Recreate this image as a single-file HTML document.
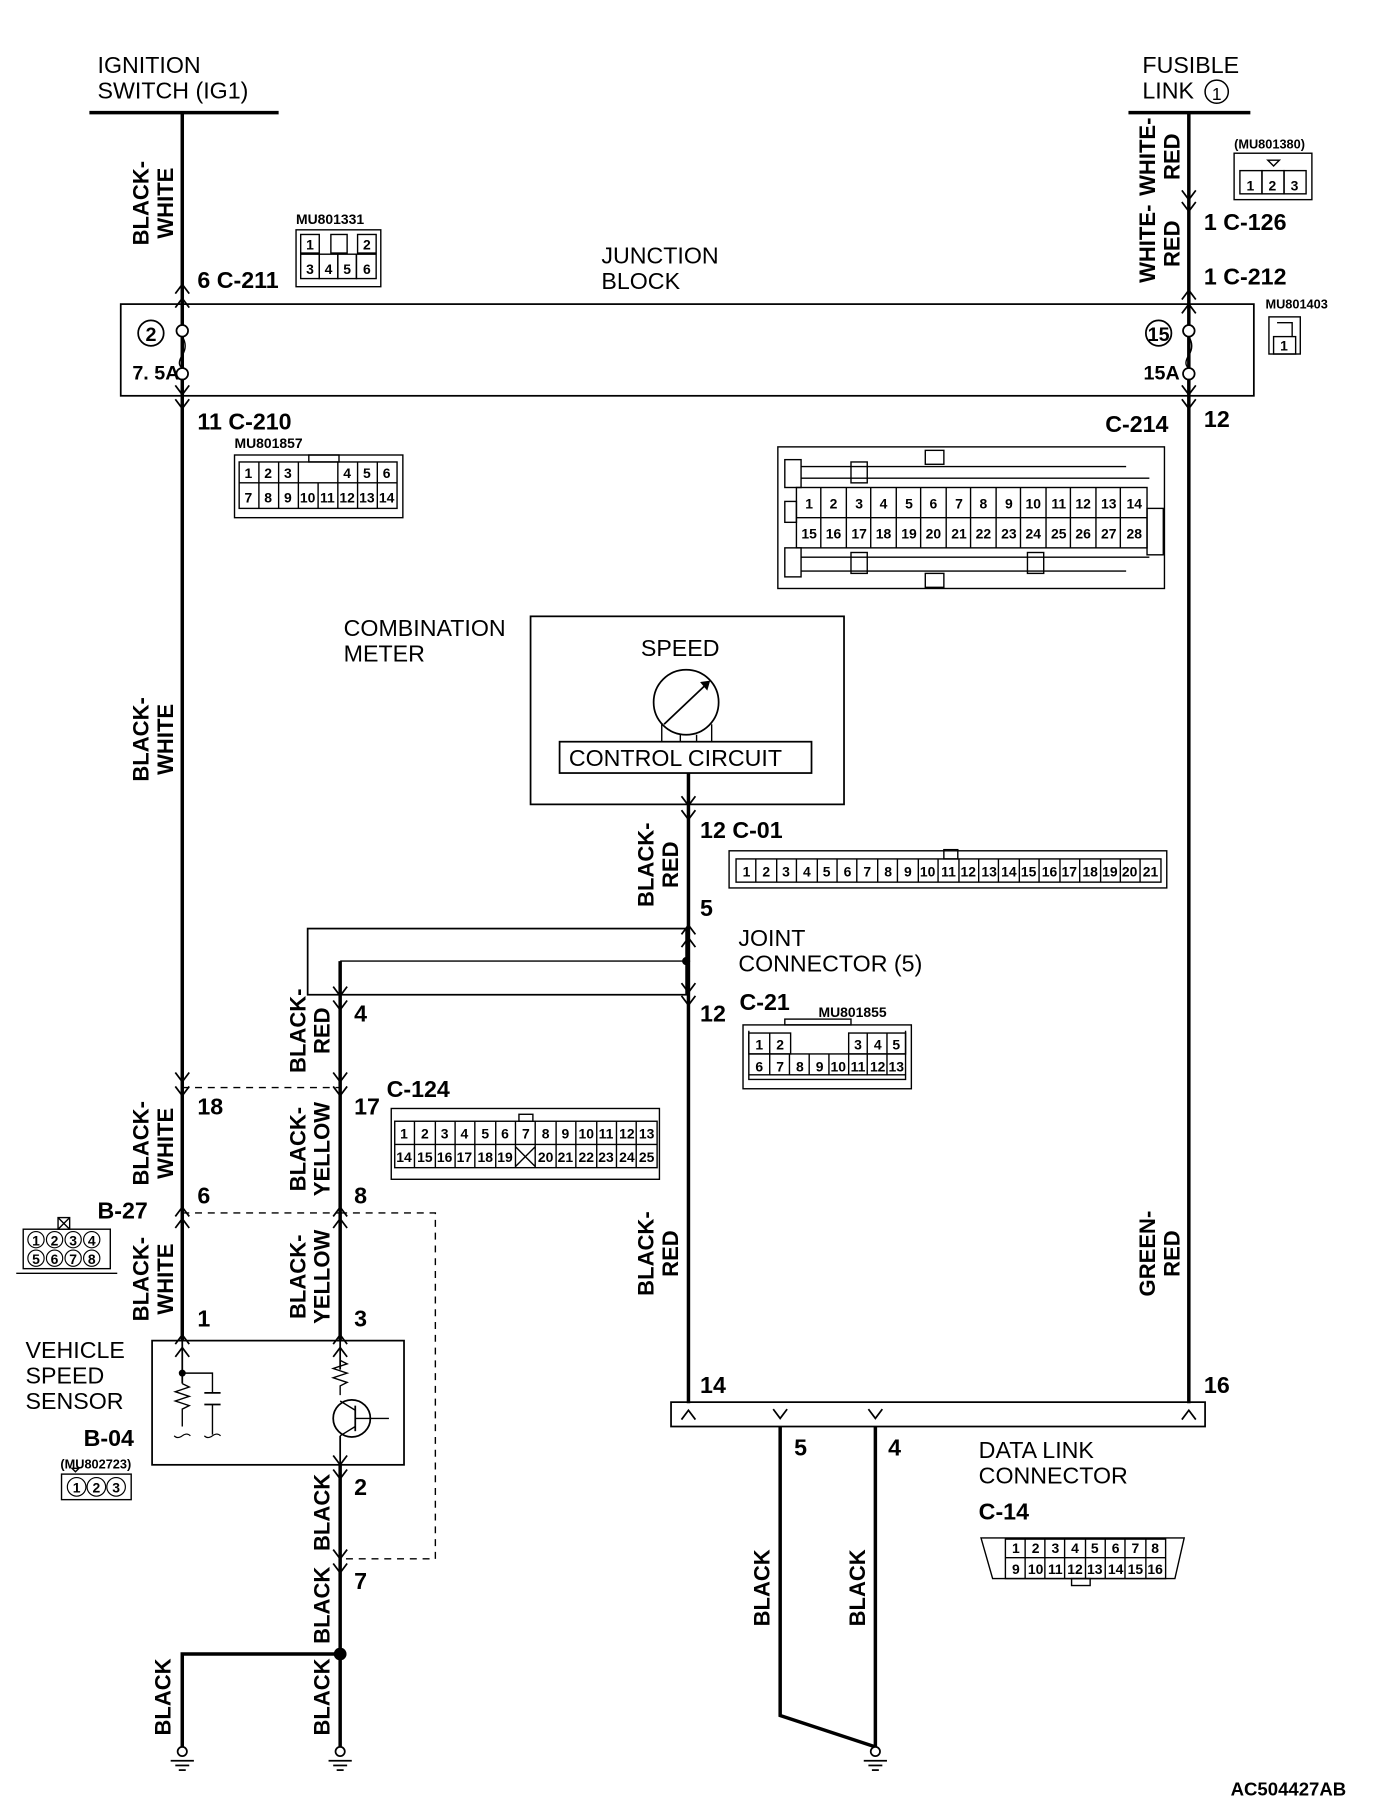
<!DOCTYPE html>
<html><head><meta charset="utf-8"><style>
html,body{margin:0;padding:0;background:#fff}
svg{display:block}
.t{font-family:"Liberation Sans",sans-serif;font-size:20px;fill:#000}
.b{font-family:"Liberation Sans Narrow","Liberation Sans",sans-serif;font-weight:bold;font-size:20px;fill:#000}
.w{font-family:"Liberation Sans Narrow","Liberation Sans",sans-serif;font-weight:bold;font-size:19px;fill:#000}
.s{font-family:"Liberation Sans Narrow","Liberation Sans",sans-serif;font-weight:bold;font-size:12px;fill:#000}
.p{font-family:"Liberation Sans Narrow","Liberation Sans",sans-serif;font-weight:bold;font-size:12px;fill:#000;text-anchor:middle}
</style></head><body>
<svg width="1392" height="1820" viewBox="0 0 1199 1568" preserveAspectRatio="none" xmlns="http://www.w3.org/2000/svg">
<defs>
<symbol id="u" overflow="visible"><path d="M-6,8 L0,0 L6,8" fill="none" stroke="#000" stroke-width="1.5"/></symbol>
<symbol id="d" overflow="visible"><path d="M-6,-8 L0,0 L6,-8" fill="none" stroke="#000" stroke-width="1.5"/></symbol>
</defs>
<g fill="none" stroke="#000">
<line x1="77" y1="97" x2="240" y2="97" stroke-width="3"/>
<line x1="972" y1="97" x2="1077" y2="97" stroke-width="3"/>
<line x1="157" y1="97" x2="157" y2="1155" stroke-width="3"/>
<line x1="1024" y1="97" x2="1024" y2="1209" stroke-width="3"/>
<line x1="593" y1="666" x2="593" y2="1209" stroke-width="3"/>
<line x1="293" y1="828" x2="293" y2="1155" stroke-width="3"/>
<line x1="293" y1="1262" x2="293" y2="1505" stroke-width="3"/>
<polyline points="157,1505 157,1425 293,1425" stroke-width="3"/>
<polyline points="672,1229 672,1478 754,1505" stroke-width="3"/>
<line x1="754" y1="1229" x2="754" y2="1505" stroke-width="3"/>
<rect x="104" y="262" width="976" height="79" stroke-width="1.5"/>
<circle cx="130" cy="287" r="11" stroke-width="1.5"/>
<circle cx="998" cy="287" r="11" stroke-width="1.5"/>
<circle cx="157" cy="285" r="5" fill="#fff" stroke-width="1.5"/>
<circle cx="157" cy="322" r="5" fill="#fff" stroke-width="1.5"/>
<circle cx="1024" cy="285" r="5" fill="#fff" stroke-width="1.5"/>
<circle cx="1024" cy="322" r="5" fill="#fff" stroke-width="1.5"/>
<rect x="457" y="531" width="270" height="162" stroke-width="1.5"/>
<circle cx="591" cy="605" r="28" stroke-width="1.5"/>
<line x1="572" y1="624" x2="610" y2="588" stroke-width="1.5"/>
<path d="M604,588 L611,587 L609,594Z" fill="#000"/>
<line x1="570" y1="624" x2="570" y2="639" stroke-width="1.2"/>
<line x1="586" y1="633" x2="586" y2="639" stroke-width="1.2"/>
<line x1="600" y1="633" x2="600" y2="639" stroke-width="1.2"/>
<line x1="613" y1="624" x2="613" y2="639" stroke-width="1.2"/>
<rect x="482" y="639" width="217" height="27" stroke-width="1.5"/>
<rect x="265" y="800" width="326" height="57" stroke-width="1.5"/>
<line x1="293" y1="828" x2="591" y2="828" stroke-width="1.2"/>
<circle cx="591" cy="828" r="3" fill="#000"/>
<line x1="157" y1="937" x2="293" y2="937" stroke-dasharray="6,5" stroke-width="1.2"/>
<polyline points="157,1045 293,1045" stroke-dasharray="6,5" stroke-width="1.2"/>
<polyline points="293,1045 375,1045 375,1343 293,1343" stroke-dasharray="6,5" stroke-width="1.2"/>
<rect x="131" y="1155" width="217" height="107" stroke-width="1.5"/>
<line x1="157" y1="1155" x2="157" y2="1192" stroke-width="1.5"/>
<circle cx="157" cy="1183" r="2.5" fill="#000"/>
<polyline points="157,1183 183,1183 183,1200" stroke-width="1.2"/>
<line x1="176" y1="1200" x2="190" y2="1200" stroke-width="1.5"/>
<line x1="176" y1="1210" x2="190" y2="1210" stroke-width="1.5"/>
<line x1="183" y1="1210" x2="183" y2="1236" stroke-width="1.2"/>
<path d="M157,1192 l6,3 l-12,4 l12,4 l-12,4 l12,4 l-6,3 v15" stroke-width="1.2"/>
<path d="M150,1237 q3,3 7,0 q4,-3 7,0 M176,1237 q3,3 7,0 q4,-3 7,0" stroke-width="1"/>
<line x1="293" y1="1155" x2="293" y2="1180" stroke-width="1.5"/>
<path d="M293,1172 l6,3 l-12,4 l12,4 l-12,4 l12,4 l-6,3 v8" stroke-width="1.2"/>
<circle cx="303" cy="1222" r="16" stroke-width="1.5"/>
<line x1="306" y1="1211" x2="306" y2="1233" stroke-width="1.5"/>
<line x1="293" y1="1207" x2="306" y2="1215" stroke-width="1.2"/>
<line x1="306" y1="1229" x2="293" y2="1237" stroke-width="1.2"/>
<line x1="306" y1="1222" x2="335" y2="1222" stroke-width="1.2"/>
<line x1="293" y1="1237" x2="293" y2="1262" stroke-width="1.5"/>
<rect x="578" y="1208" width="460" height="21" stroke-width="1.5"/>
<g stroke-width="1.5">
<circle cx="157" cy="1509" r="4" fill="#fff"/><line x1="147" y1="1517" x2="167" y2="1517"/><line x1="151" y1="1521" x2="163" y2="1521"/><line x1="154" y1="1525" x2="160" y2="1525"/>
<circle cx="293" cy="1509" r="4" fill="#fff"/><line x1="283" y1="1517" x2="303" y2="1517"/><line x1="287" y1="1521" x2="299" y2="1521"/><line x1="290" y1="1525" x2="296" y2="1525"/>
<circle cx="754" cy="1509" r="4" fill="#fff"/><line x1="744" y1="1517" x2="764" y2="1517"/><line x1="748" y1="1521" x2="760" y2="1521"/><line x1="751" y1="1525" x2="757" y2="1525"/>
</g>
<circle cx="293" cy="1425" r="5" fill="#000"/>
</g>
<path d="M157,290 q5,8 0,16 q-5,8 0,11" fill="none" stroke="#000" stroke-width="1.2"/>
<path d="M1024,290 q5,8 0,16 q-5,8 0,11" fill="none" stroke="#000" stroke-width="1.2"/>
<use href="#u" x="157" y="245"/><use href="#u" x="157" y="257"/>
<use href="#d" x="157" y="340"/><use href="#d" x="157" y="352"/>
<use href="#d" x="157" y="932"/><use href="#d" x="157" y="944"/>
<use href="#u" x="157" y="1040"/><use href="#u" x="157" y="1050"/>
<use href="#u" x="157" y="1150"/><use href="#u" x="157" y="1161"/>
<use href="#d" x="1024" y="172"/><use href="#d" x="1024" y="182"/>
<use href="#u" x="1024" y="250"/><use href="#u" x="1024" y="262"/>
<use href="#d" x="1024" y="340"/><use href="#d" x="1024" y="352"/>
<use href="#u" x="1024" y="1215"/>
<use href="#d" x="593" y="694"/><use href="#d" x="593" y="706"/>
<use href="#u" x="593" y="797"/><use href="#u" x="593" y="808"/>
<use href="#d" x="593" y="855"/><use href="#d" x="593" y="866"/>
<use href="#u" x="593" y="1215"/>
<use href="#d" x="293" y="858"/><use href="#d" x="293" y="870"/>
<use href="#d" x="293" y="932"/><use href="#d" x="293" y="944"/>
<use href="#u" x="293" y="1040"/><use href="#u" x="293" y="1050"/>
<use href="#u" x="293" y="1150"/><use href="#u" x="293" y="1161"/>
<use href="#d" x="293" y="1262"/><use href="#d" x="293" y="1274"/>
<use href="#d" x="293" y="1343"/><use href="#d" x="293" y="1355"/>
<use href="#d" x="672" y="1222"/><use href="#d" x="754" y="1222"/>

<text class="t" x="84" y="63">IGNITION</text>
<text class="t" x="84" y="85">SWITCH (IG1)</text>
<text class="t" x="984" y="63">FUSIBLE</text>
<text class="t" x="984" y="85">LINK</text>
<circle cx="1048" cy="79" r="10" fill="none" stroke="#000" stroke-width="1.3"/>
<text class="t" x="1048" y="86" text-anchor="middle" style="font-size:15px">1</text>
<text class="t" x="518" y="227">JUNCTION</text>
<text class="t" x="518" y="249">BLOCK</text>
<text class="b" x="130" y="294" text-anchor="middle" style="font-size:17px">2</text>
<text class="b" x="998" y="294" text-anchor="middle" style="font-size:17px">15</text>
<text class="b" x="114" y="327" style="font-size:17px">7. 5A</text>
<text class="b" x="985" y="327" style="font-size:17px">15A</text>
<text class="b" x="170" y="248">6  C-211</text>
<text class="b" x="170" y="370">11  C-210</text>
<text class="b" x="1037" y="198">1  C-126</text>
<text class="b" x="1037" y="245">1  C-212</text>
<text class="b" x="1037" y="368">12</text>
<text class="b" x="952" y="372">C-214</text>
<text class="t" x="296" y="548">COMBINATION</text>
<text class="t" x="296" y="570">METER</text>
<text class="t" x="552" y="565">SPEED</text>
<text class="t" x="490" y="660">CONTROL CIRCUIT</text>
<text class="b" x="603" y="722">12  C-01</text>
<text class="b" x="603" y="789">5</text>
<text class="t" x="636" y="815">JOINT</text>
<text class="t" x="636" y="837">CONNECTOR (5)</text>
<text class="b" x="603" y="880">12</text>
<text class="b" x="637" y="870">C-21</text>
<text class="b" x="305" y="880">4</text>
<text class="b" x="170" y="960">18</text>
<text class="b" x="305" y="960">17</text>
<text class="b" x="333" y="945">C-124</text>
<text class="b" x="170" y="1037">6</text>
<text class="b" x="305" y="1037">8</text>
<text class="b" x="84" y="1050">B-27</text>
<text class="b" x="170" y="1143">1</text>
<text class="b" x="305" y="1143">3</text>
<text class="t" x="22" y="1170">VEHICLE</text>
<text class="t" x="22" y="1192">SPEED</text>
<text class="t" x="22" y="1214">SENSOR</text>
<text class="b" x="72" y="1246">B-04</text>
<text class="s" x="52" y="1265" style="font-size:11px">(MU802723)</text>
<text class="b" x="305" y="1288">2</text>
<text class="b" x="305" y="1369">7</text>
<text class="b" x="603" y="1200">14</text>
<text class="b" x="1037" y="1200">16</text>
<text class="b" x="684" y="1254">5</text>
<text class="b" x="765" y="1254">4</text>
<text class="t" x="843" y="1256">DATA LINK</text>
<text class="t" x="843" y="1278">CONNECTOR</text>
<text class="b" x="843" y="1309">C-14</text>
<text class="b" x="1060" y="1547" style="font-size:16px">AC504427AB</text>

<g class="w" text-anchor="middle">
<text transform="translate(128,175) rotate(-90)">BLACK-</text><text transform="translate(149,175) rotate(-90)">WHITE</text>
<text transform="translate(128,637) rotate(-90)">BLACK-</text><text transform="translate(149,637) rotate(-90)">WHITE</text>
<text transform="translate(128,985) rotate(-90)">BLACK-</text><text transform="translate(149,985) rotate(-90)">WHITE</text>
<text transform="translate(128,1102) rotate(-90)">BLACK-</text><text transform="translate(149,1102) rotate(-90)">WHITE</text>
<text transform="translate(995,135) rotate(-90)">WHITE-</text><text transform="translate(1016,135) rotate(-90)">RED</text>
<text transform="translate(995,210) rotate(-90)">WHITE-</text><text transform="translate(1016,210) rotate(-90)">RED</text>
<text transform="translate(995,1080) rotate(-90)">GREEN-</text><text transform="translate(1016,1080) rotate(-90)">RED</text>
<text transform="translate(563,745) rotate(-90)">BLACK-</text><text transform="translate(584,745) rotate(-90)">RED</text>
<text transform="translate(563,1080) rotate(-90)">BLACK-</text><text transform="translate(584,1080) rotate(-90)">RED</text>
<text transform="translate(263,888) rotate(-90)">BLACK-</text><text transform="translate(284,888) rotate(-90)">RED</text>
<text transform="translate(263,990) rotate(-90)">BLACK-</text><text transform="translate(284,990) rotate(-90)">YELLOW</text>
<text transform="translate(263,1100) rotate(-90)">BLACK-</text><text transform="translate(284,1100) rotate(-90)">YELLOW</text>
<text transform="translate(284,1303) rotate(-90)">BLACK</text>
<text transform="translate(284,1383) rotate(-90)">BLACK</text>
<text transform="translate(284,1462) rotate(-90)">BLACK</text>
<text transform="translate(147,1462) rotate(-90)">BLACK</text>
<text transform="translate(663,1368) rotate(-90)">BLACK</text>
<text transform="translate(745,1368) rotate(-90)">BLACK</text>
</g>

<g fill="none" stroke="#000" stroke-width="1.2">
<rect x="255" y="198" width="73" height="49"/>
<rect x="259" y="202" width="16" height="16"/><rect x="285" y="202" width="14" height="16"/><rect x="308" y="202" width="16" height="16"/>
<rect x="259" y="219" width="16" height="21"/><rect x="275" y="219" width="16" height="21"/><rect x="291" y="219" width="16" height="21"/><rect x="307" y="219" width="17" height="21"/>
<rect x="1063" y="132" width="67" height="40"/>
<rect x="1068" y="147" width="19" height="20"/><rect x="1087" y="147" width="19" height="20"/><rect x="1106" y="147" width="19" height="20"/>
<path d="M1092,138 h10 l-5,5z"/>
<rect x="1093" y="273" width="27" height="32"/><rect x="1097" y="290" width="19" height="15"/><path d="M1100,278 h13 v12"/>
<rect x="202" y="392" width="145" height="54"/><rect x="266" y="392" width="26" height="6"/>
<rect x="206" y="398" width="136" height="40"/>
<line x1="206" y1="416" x2="342" y2="416"/>
<line x1="223" y1="398" x2="223" y2="438"/><line x1="240" y1="398" x2="240" y2="438"/><line x1="257" y1="398" x2="257" y2="438"/>
<line x1="274" y1="416" x2="274" y2="438"/><line x1="291" y1="398" x2="291" y2="438"/><line x1="308" y1="398" x2="308" y2="438"/><line x1="325" y1="398" x2="325" y2="438"/>
<rect x="670" y="385" width="333" height="122"/>
<rect x="686" y="420" width="302" height="52"/>
<line x1="686" y1="446" x2="988" y2="446"/>
<path d="M690,402 H970 M690,412 H990 M690,480 H990 M690,492 H970"/>
<rect x="676" y="396" width="14" height="24"/><rect x="676" y="472" width="14" height="25"/><rect x="676" y="432" width="10" height="18"/>
<rect x="733" y="398" width="14" height="18"/><rect x="733" y="476" width="14" height="18"/>
<rect x="797" y="388" width="16" height="12"/><rect x="797" y="494" width="16" height="12"/><rect x="885" y="476" width="14" height="18"/>
<rect x="988" y="438" width="14" height="40"/>
<rect x="628" y="733" width="377" height="32"/>
<rect x="634" y="740" width="366" height="20"/>
<rect x="813" y="732" width="12" height="8"/>
<rect x="640" y="883" width="145" height="55"/><rect x="676" y="878" width="57" height="5"/>
<path d="M645,888 V930 H780 V888 M645,926 H780"/>
<rect x="645" y="890" width="36" height="18"/><line x1="663" y1="890" x2="663" y2="908"/>
<rect x="731" y="890" width="49" height="18"/><line x1="747" y1="890" x2="747" y2="908"/><line x1="764" y1="890" x2="764" y2="908"/>
<line x1="645" y1="908" x2="780" y2="908"/>
<rect x="337" y="955" width="231" height="61"/>
<rect x="340" y="966" width="226" height="40"/><line x1="340" y1="986" x2="566" y2="986"/>
<rect x="447" y="960" width="12" height="6"/>
<line x1="444" y1="988" x2="461" y2="1005"/><line x1="461" y1="988" x2="444" y2="1005"/>
<rect x="20" y="1059" width="75" height="34"/><line x1="14" y1="1097" x2="101" y2="1097"/>
<rect x="50" y="1049" width="10" height="10"/><path d="M50,1049 l10,10 M60,1049 l-10,10"/>
<rect x="53" y="1270" width="60" height="22"/><path d="M62,1265 h6 l-3,3z"/>
<path d="M845,1325 H1020 L1012,1360 H855 Z"/>
<line x1="866" y1="1342" x2="1004" y2="1342"/>
<rect x="866" y="1326" width="138" height="34"/>
<rect x="923" y="1360" width="16" height="6"/>
</g>
<g stroke="#000" stroke-width="1.2">
<line x1="707" y1="420" x2="707" y2="472"/><line x1="729" y1="420" x2="729" y2="472"/><line x1="750" y1="420" x2="750" y2="472"/><line x1="772" y1="420" x2="772" y2="472"/><line x1="793" y1="420" x2="793" y2="472"/><line x1="815" y1="420" x2="815" y2="472"/><line x1="836" y1="420" x2="836" y2="472"/><line x1="858" y1="420" x2="858" y2="472"/><line x1="879" y1="420" x2="879" y2="472"/><line x1="901" y1="420" x2="901" y2="472"/><line x1="922" y1="420" x2="922" y2="472"/><line x1="944" y1="420" x2="944" y2="472"/><line x1="965" y1="420" x2="965" y2="472"/>
<line x1="651" y1="740" x2="651" y2="760"/><line x1="669" y1="740" x2="669" y2="760"/><line x1="686" y1="740" x2="686" y2="760"/><line x1="704" y1="740" x2="704" y2="760"/><line x1="721" y1="740" x2="721" y2="760"/><line x1="738" y1="740" x2="738" y2="760"/><line x1="756" y1="740" x2="756" y2="760"/><line x1="773" y1="740" x2="773" y2="760"/><line x1="791" y1="740" x2="791" y2="760"/><line x1="808" y1="740" x2="808" y2="760"/><line x1="826" y1="740" x2="826" y2="760"/><line x1="843" y1="740" x2="843" y2="760"/><line x1="860" y1="740" x2="860" y2="760"/><line x1="878" y1="740" x2="878" y2="760"/><line x1="895" y1="740" x2="895" y2="760"/><line x1="913" y1="740" x2="913" y2="760"/><line x1="930" y1="740" x2="930" y2="760"/><line x1="948" y1="740" x2="948" y2="760"/><line x1="965" y1="740" x2="965" y2="760"/><line x1="982" y1="740" x2="982" y2="760"/>
<line x1="663" y1="908" x2="663" y2="926"/><line x1="680" y1="908" x2="680" y2="926"/><line x1="697" y1="908" x2="697" y2="926"/><line x1="714" y1="908" x2="714" y2="926"/><line x1="731" y1="908" x2="731" y2="926"/><line x1="747" y1="908" x2="747" y2="926"/><line x1="764" y1="908" x2="764" y2="926"/>
<line x1="357" y1="966" x2="357" y2="1006"/><line x1="375" y1="966" x2="375" y2="1006"/><line x1="392" y1="966" x2="392" y2="1006"/><line x1="409" y1="966" x2="409" y2="1006"/><line x1="427" y1="966" x2="427" y2="1006"/><line x1="444" y1="966" x2="444" y2="1006"/><line x1="461" y1="966" x2="461" y2="1006"/><line x1="479" y1="966" x2="479" y2="1006"/><line x1="496" y1="966" x2="496" y2="1006"/><line x1="514" y1="966" x2="514" y2="1006"/><line x1="531" y1="966" x2="531" y2="1006"/><line x1="548" y1="966" x2="548" y2="1006"/>
<line x1="883" y1="1326" x2="883" y2="1360"/><line x1="900" y1="1326" x2="900" y2="1360"/><line x1="917" y1="1326" x2="917" y2="1360"/><line x1="935" y1="1326" x2="935" y2="1360"/><line x1="952" y1="1326" x2="952" y2="1360"/><line x1="969" y1="1326" x2="969" y2="1360"/><line x1="987" y1="1326" x2="987" y2="1360"/>
</g>
<g fill="none" stroke="#000" stroke-width="1">
<circle cx="31" cy="1068" r="7"/><circle cx="47" cy="1068" r="7"/><circle cx="63" cy="1068" r="7"/><circle cx="79" cy="1068" r="7"/>
<circle cx="31" cy="1084" r="7"/><circle cx="47" cy="1084" r="7"/><circle cx="63" cy="1084" r="7"/><circle cx="79" cy="1084" r="7"/>
<circle cx="66" cy="1281" r="8"/><circle cx="83" cy="1281" r="8"/><circle cx="100" cy="1281" r="8"/>
</g>
<g class="p">
<text x="267" y="215">1</text><text x="316" y="215">2</text>
<text x="267" y="236">3</text><text x="283" y="236">4</text><text x="299" y="236">5</text><text x="316" y="236">6</text>
<text x="1077" y="164">1</text><text x="1096" y="164">2</text><text x="1115" y="164">3</text>
<text x="1106" y="302">1</text>
<text x="214" y="412">1</text><text x="231" y="412">2</text><text x="248" y="412">3</text><text x="299" y="412">4</text><text x="316" y="412">5</text><text x="333" y="412">6</text>
<text x="214" y="433">7</text><text x="231" y="433">8</text><text x="248" y="433">9</text><text x="265" y="433">10</text><text x="282" y="433">11</text><text x="299" y="433">12</text><text x="316" y="433">13</text><text x="333" y="433">14</text>
<text x="697" y="438">1</text><text x="718" y="438">2</text><text x="740" y="438">3</text><text x="761" y="438">4</text><text x="783" y="438">5</text><text x="804" y="438">6</text><text x="826" y="438">7</text><text x="847" y="438">8</text><text x="869" y="438">9</text><text x="890" y="438">10</text><text x="912" y="438">11</text><text x="933" y="438">12</text><text x="955" y="438">13</text><text x="977" y="438">14</text>
<text x="697" y="464">15</text><text x="718" y="464">16</text><text x="740" y="464">17</text><text x="761" y="464">18</text><text x="783" y="464">19</text><text x="804" y="464">20</text><text x="826" y="464">21</text><text x="847" y="464">22</text><text x="869" y="464">23</text><text x="890" y="464">24</text><text x="912" y="464">25</text><text x="933" y="464">26</text><text x="955" y="464">27</text><text x="977" y="464">28</text>
<text x="643" y="755">1</text><text x="660" y="755">2</text><text x="677" y="755">3</text><text x="695" y="755">4</text><text x="712" y="755">5</text><text x="730" y="755">6</text><text x="747" y="755">7</text><text x="765" y="755">8</text><text x="782" y="755">9</text><text x="799" y="755">10</text><text x="817" y="755">11</text><text x="834" y="755">12</text><text x="852" y="755">13</text><text x="869" y="755">14</text><text x="886" y="755">15</text><text x="904" y="755">16</text><text x="921" y="755">17</text><text x="939" y="755">18</text><text x="956" y="755">19</text><text x="973" y="755">20</text><text x="991" y="755">21</text>
<text x="654" y="904">1</text><text x="672" y="904">2</text><text x="739" y="904">3</text><text x="756" y="904">4</text><text x="772" y="904">5</text>
<text x="654" y="923">6</text><text x="672" y="923">7</text><text x="689" y="923">8</text><text x="706" y="923">9</text><text x="722" y="923">10</text><text x="739" y="923">11</text><text x="756" y="923">12</text><text x="772" y="923">13</text>
<text x="348" y="981">1</text><text x="366" y="981">2</text><text x="383" y="981">3</text><text x="400" y="981">4</text><text x="418" y="981">5</text><text x="435" y="981">6</text><text x="453" y="981">7</text><text x="470" y="981">8</text><text x="487" y="981">9</text><text x="505" y="981">10</text><text x="522" y="981">11</text><text x="540" y="981">12</text><text x="557" y="981">13</text>
<text x="348" y="1001">14</text><text x="366" y="1001">15</text><text x="383" y="1001">16</text><text x="400" y="1001">17</text><text x="418" y="1001">18</text><text x="435" y="1001">19</text><text x="470" y="1001">20</text><text x="487" y="1001">21</text><text x="505" y="1001">22</text><text x="522" y="1001">23</text><text x="540" y="1001">24</text><text x="557" y="1001">25</text>
<text x="31" y="1073">1</text><text x="47" y="1073">2</text><text x="63" y="1073">3</text><text x="79" y="1073">4</text>
<text x="31" y="1089">5</text><text x="47" y="1089">6</text><text x="63" y="1089">7</text><text x="79" y="1089">8</text>
<text x="66" y="1286">1</text><text x="83" y="1286">2</text><text x="100" y="1286">3</text>
<text x="875" y="1338">1</text><text x="892" y="1338">2</text><text x="909" y="1338">3</text><text x="926" y="1338">4</text><text x="943" y="1338">5</text><text x="961" y="1338">6</text><text x="978" y="1338">7</text><text x="995" y="1338">8</text>
<text x="875" y="1356">9</text><text x="892" y="1356">10</text><text x="909" y="1356">11</text><text x="926" y="1356">12</text><text x="943" y="1356">13</text><text x="961" y="1356">14</text><text x="978" y="1356">15</text><text x="995" y="1356">16</text>
</g>
<g class="s">
<text x="255" y="193">MU801331</text>
<text x="1063" y="128" style="font-size:11px">(MU801380)</text>
<text x="1090" y="266" style="font-size:11px">MU801403</text>
<text x="202" y="386">MU801857</text>
<text x="705" y="876">MU801855</text>
</g>
</svg>
</body></html>
